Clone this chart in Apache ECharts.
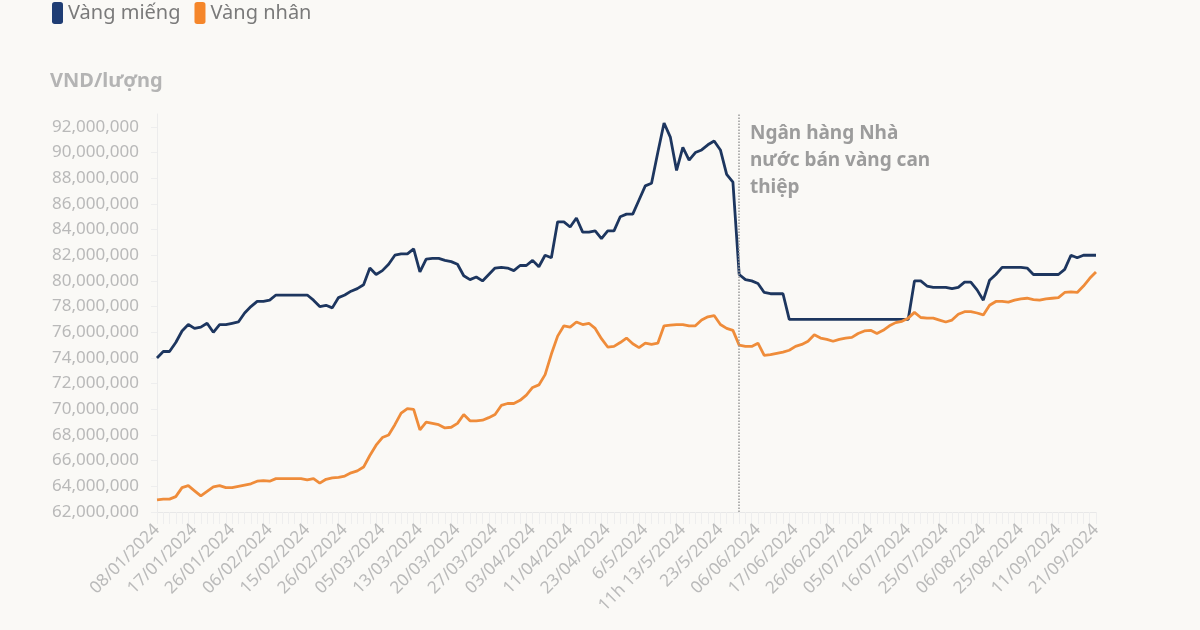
<!DOCTYPE html>
<html>
<head>
<meta charset="utf-8">
<script src="https://cdn.jsdelivr.net/npm/echarts@6/dist/echarts.min.js"></script>
<style>
  html, body { margin: 0; padding: 0; background: #faf9f6; }
  #chart { width: 1200px; height: 630px; }
</style>
</head>
<body>
<div id="chart"></div>
<script>
// nhãn trục X (mỗi nhãn cách nhau STEP điểm dữ liệu)
const tickLabels = [
  '08/01/2024', '17/01/2024', '26/01/2024', '06/02/2024', '15/02/2024', '26/02/2024',
  '05/03/2024', '13/03/2024', '20/03/2024', '27/03/2024', '03/04/2024', '11/04/2024',
  '23/04/2024', '6/5/2024', '11h 13/5/2024', '23/5/2024', '06/06/2024', '17/06/2024',
  '26/06/2024', '05/07/2024', '16/07/2024', '25/07/2024', '06/08/2024', '25/08/2024',
  '11/09/2024', '21/09/2024'
]
const STEP = 6

// giá, triệu đồng / lượng
const vangMieng = [
  74.0, 74.5, 74.5, 75.2, 76.1, 76.6, 76.3, 76.4, 76.7, 76.0,
  76.6, 76.6, 76.7, 76.8, 77.5, 78.0, 78.4, 78.4, 78.5, 78.9,
  78.9, 78.9, 78.9, 78.9, 78.9, 78.5, 78.0, 78.1, 77.9, 78.7,
  78.9, 79.2, 79.4, 79.7, 81.0, 80.5, 80.8, 81.3, 82.0, 82.1,
  82.1, 82.5, 80.7, 81.7, 81.75, 81.75, 81.6, 81.5, 81.3, 80.4,
  80.1, 80.3, 80.0, 80.5, 81.0, 81.05, 81.0, 80.8, 81.2, 81.2,
  81.6, 81.1, 82.0, 81.8, 84.6, 84.6, 84.2, 84.9, 83.8, 83.8,
  83.9, 83.3, 83.9, 83.9, 85.0, 85.2, 85.2, 86.3, 87.4, 87.6,
  90.0, 92.3, 91.2, 88.6, 90.4, 89.4, 90.0, 90.2, 90.6, 90.9,
  90.2, 88.3, 87.7, 80.5, 80.1, 80.0, 79.8, 79.1, 79.0, 79.0,
  79.0, 77.0, 77.0, 77.0, 77.0, 77.0, 77.0, 77.0, 77.0, 77.0,
  77.0, 77.0, 77.0, 77.0, 77.0, 77.0, 77.0, 77.0, 77.0, 77.0,
  77.0,
  80.0, 80.0, 79.6, 79.5, 79.5, 79.5, 79.4, 79.5, 79.9, 79.9,
  79.3, 78.5, 80.05, 80.5, 81.05, 81.05, 81.05, 81.05, 81.0, 80.5,
  80.5, 80.5, 80.5, 80.5, 80.9, 82.0, 81.8, 82.0, 82.0, 82.0
]

const vangNhan = [
  62.95, 63.0, 63.0, 63.2, 63.9, 64.05, 63.65, 63.25, 63.6, 63.95,
  64.05, 63.9, 63.9, 64.0, 64.1, 64.2, 64.4, 64.45, 64.4, 64.6,
  64.6, 64.6, 64.6, 64.6, 64.5, 64.6, 64.25, 64.55, 64.65, 64.7,
  64.8, 65.05, 65.2, 65.5, 66.4, 67.2, 67.8, 68.0, 68.8, 69.7,
  70.05, 70.0, 68.4, 69.0, 68.9, 68.8, 68.55, 68.6, 68.9, 69.6,
  69.1, 69.1, 69.15, 69.35, 69.6, 70.3, 70.45, 70.45, 70.7, 71.1,
  71.7, 71.9, 72.7, 74.3, 75.7, 76.5, 76.4, 76.8, 76.6, 76.7,
  76.3, 75.5, 74.85, 74.9, 75.2, 75.55, 75.1, 74.8, 75.15, 75.05,
  75.15, 76.5, 76.55, 76.6, 76.6, 76.5, 76.5, 76.95, 77.2, 77.3,
  76.6, 76.3, 76.15, 75.0, 74.9, 74.9, 75.15, 74.2, 74.25, 74.35,
  74.45, 74.6, 74.9, 75.05, 75.3, 75.8, 75.55, 75.45, 75.3, 75.45,
  75.55, 75.6, 75.9, 76.1, 76.15, 75.9, 76.15, 76.5, 76.75, 76.85,
  77.1, 77.55, 77.15, 77.1, 77.1, 76.95, 76.8, 76.95, 77.4, 77.6,
  77.6, 77.5, 77.35, 78.1, 78.4, 78.4, 78.35, 78.5, 78.6, 78.65,
  78.55, 78.5, 78.6, 78.65, 78.7, 79.1, 79.15, 79.1, 79.6, 80.2, 80.7
]

// điểm NHNN bán vàng can thiệp
const canThiepIndex = 93
const annotation = 'Ngân hàng Nhà\nnước bán vàng can\nthiệp'

const categories = vangMieng.map((_, i) => i % STEP === 0 ? tickLabels[i / STEP] : 'p' + i)
const toVnd = arr => arr.map(v => Math.round(v * 1e6))

const FONT = '"Noto Sans", "DejaVu Sans", sans-serif'

const chart = echarts.init(document.getElementById('chart'))
chart.setOption({
  backgroundColor: '#faf9f6',
  animation: false,
  textStyle: { fontFamily: FONT },
  title: {
    text: 'VND/lượng',
    left: 45,
    top: 66,
    textStyle: { fontFamily: FONT, fontSize: 20, fontWeight: 'bold', color: '#b4b4b4' }
  },
  legend: {
    left: 47,
    top: -3,
    icon: 'roundRect',
    itemWidth: 11,
    itemHeight: 22,
    itemGap: 14,
    textStyle: { fontFamily: FONT, fontSize: 20, color: '#7a7a7a' },
    data: ['Vàng miếng', 'Vàng nhân']
  },
  grid: { left: 157, right: 104, top: 114, bottom: 118 },
  xAxis: {
    type: 'category',
    data: categories,
    boundaryGap: false,
    axisLine: { lineStyle: { color: '#e8e8e8' } },
    axisTick: { show: true, interval: 0, length: 12, lineStyle: { color: '#eeeeee' } },
    axisLabel: {
      interval: STEP - 1,
      rotate: 45,
      margin: 15,
      fontSize: 17,
      color: '#bababa',
      fontFamily: FONT
    },
    splitLine: { show: false }
  },
  yAxis: {
    type: 'value',
    min: 62000000,
    max: 93000000,
    interval: 2000000,
    axisLine: { show: true, lineStyle: { color: '#ececec' } },
    axisTick: { show: true, length: 6, lineStyle: { color: '#eeeeee' } },
    axisLabel: {
      showMaxLabel: false,
      margin: 18,
      fontSize: 17,
      color: '#b9b9b9',
      fontFamily: FONT,
      formatter: v => v.toLocaleString('en-US')
    },
    splitLine: { show: false }
  },
  graphic: [{
    type: 'text',
    left: 750,
    top: 120,
    style: {
      text: annotation,
      font: 'bold 19px ' + FONT,
      fill: '#9c9c9c',
      lineHeight: 27
    }
  }],
  series: [
    {
      name: 'Vàng miếng',
      type: 'line',
      data: toVnd(vangMieng),
      showSymbol: false,
      clip: false,
      color: '#1f3d74',
      lineStyle: { width: 2.8, color: '#1d365f' },
      markLine: {
        silent: true,
        symbol: 'none',
        label: { show: false },
        lineStyle: { type: 'dotted', color: '#9a9a9a', width: 1.5 },
        data: [{ xAxis: canThiepIndex }]
      }
    },
    {
      name: 'Vàng nhân',
      type: 'line',
      data: toVnd(vangNhan),
      showSymbol: false,
      color: '#f5862a',
      lineStyle: { width: 2.8, color: '#ef8c3a' }
    }
  ]
})
</script>
</body>
</html>
